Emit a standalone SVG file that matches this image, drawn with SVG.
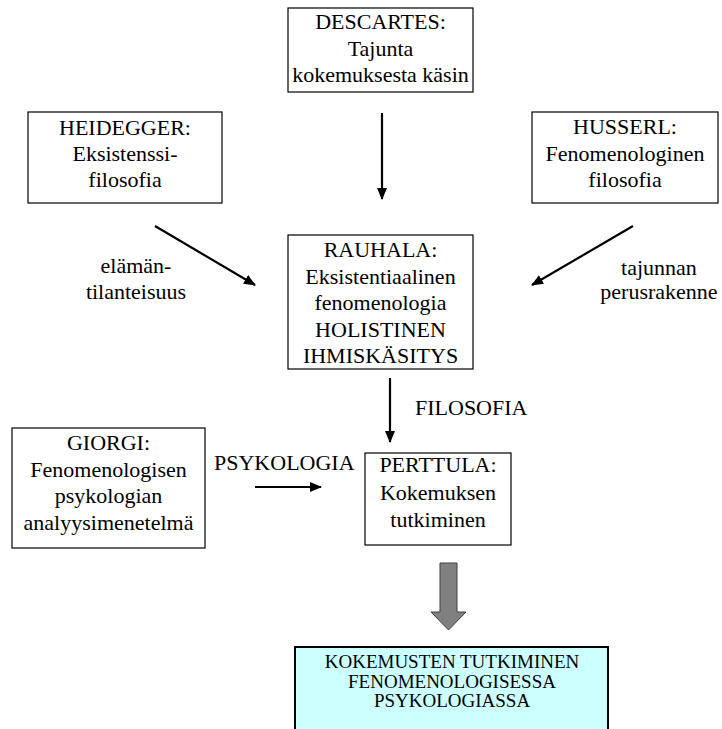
<svg xmlns="http://www.w3.org/2000/svg" width="722" height="729" viewBox="0 0 722 729">
<style>
.box{fill:#fff;stroke:#000;stroke-width:1.2}
.t{font-size:22px;fill:#000;text-anchor:middle}
.ts{font-size:19px;fill:#000;text-anchor:middle}
.conn{stroke:#000;stroke-width:2.2;fill:none;marker-end:url(#ah)}
</style>
<defs>
<marker id="ah" markerUnits="userSpaceOnUse" markerWidth="12" markerHeight="10" refX="11" refY="5" orient="auto">
<path d="M0,0 L12,5 L0,10 z" fill="#000"/>
</marker>
</defs>
<rect width="722" height="729" fill="#fff"/>
<g font-family="'Liberation Serif', 'DejaVu Serif', serif">
<g id="descartes">
<rect class="box" x="288" y="8" width="185" height="84"/>
<text class="t" x="380.5" y="29">DESCARTES:</text>
<text class="t" x="380.5" y="56">Tajunta</text>
<text class="t" x="380.5" y="82">kokemuksesta käsin</text>
</g>
<g id="heidegger">
<rect class="box" x="28" y="112" width="194" height="91"/>
<text class="t" x="125" y="135">HEIDEGGER:</text>
<text class="t" x="125" y="161">Eksistenssi-</text>
<text class="t" x="125" y="187">filosofia</text>
</g>
<g id="husserl">
<rect class="box" x="532" y="112" width="186" height="91"/>
<text class="t" x="625" y="134">HUSSERL:</text>
<text class="t" x="625" y="161">Fenomenologinen</text>
<text class="t" x="625" y="187">filosofia</text>
</g>
<g id="rauhala">
<rect class="box" x="288" y="235" width="185" height="134"/>
<text class="t" x="380.5" y="257">RAUHALA:</text>
<text class="t" x="380.5" y="284">Eksistentiaalinen</text>
<text class="t" x="380.5" y="310">fenomenologia</text>
<text class="t" x="380.5" y="337">HOLISTINEN</text>
<text class="t" x="380.5" y="363">IHMISKÄSITYS</text>
</g>
<g id="giorgi">
<rect class="box" x="12" y="428" width="193" height="120"/>
<text class="t" x="108.5" y="450">GIORGI:</text>
<text class="t" x="108.5" y="477">Fenomenologisen</text>
<text class="t" x="108.5" y="503">psykologian</text>
<text class="t" x="108.5" y="530">analyysimenetelmä</text>
</g>
<g id="perttula">
<rect class="box" x="365" y="453" width="146" height="92"/>
<text class="t" x="438" y="472">PERTTULA:</text>
<text class="t" x="438" y="500">Kokemuksen</text>
<text class="t" x="438" y="527">tutkiminen</text>
</g>
<g id="result">
<rect x="295" y="647" width="313" height="95" fill="#ccffff" stroke="#000" stroke-width="2"/>
<text class="ts" x="452" y="668">KOKEMUSTEN TUTKIMINEN</text>
<text class="ts" x="452" y="688">FENOMENOLOGISESSA</text>
<text class="ts" x="452" y="707">PSYKOLOGIASSA</text>
</g>
<g id="connectors">
<line class="conn" x1="382" y1="113" x2="382" y2="199"/>
<line class="conn" x1="155" y1="226" x2="255" y2="285"/>
<line class="conn" x1="633" y1="226" x2="532" y2="285"/>
<line class="conn" x1="390" y1="378" x2="390" y2="442"/>
<line class="conn" x1="255" y1="487" x2="321" y2="487"/>
<path d="M440,563 L457,563 L457,612 L466,612 L448.5,630 L431,612 L440,612 z" fill="#808080" stroke="#404040" stroke-width="1"/>
</g>
<g id="labels">
<text class="t" x="136" y="273">elämän-</text>
<text class="t" x="136" y="299">tilanteisuus</text>
<text class="t" x="659" y="275">tajunnan</text>
<text class="t" x="659" y="299">perusrakenne</text>
<text class="t" x="415" y="415" text-anchor="start" style="text-anchor:start">FILOSOFIA</text>
<text class="t" x="214" y="470" style="text-anchor:start">PSYKOLOGIA</text>
</g>
</g>
</svg>
